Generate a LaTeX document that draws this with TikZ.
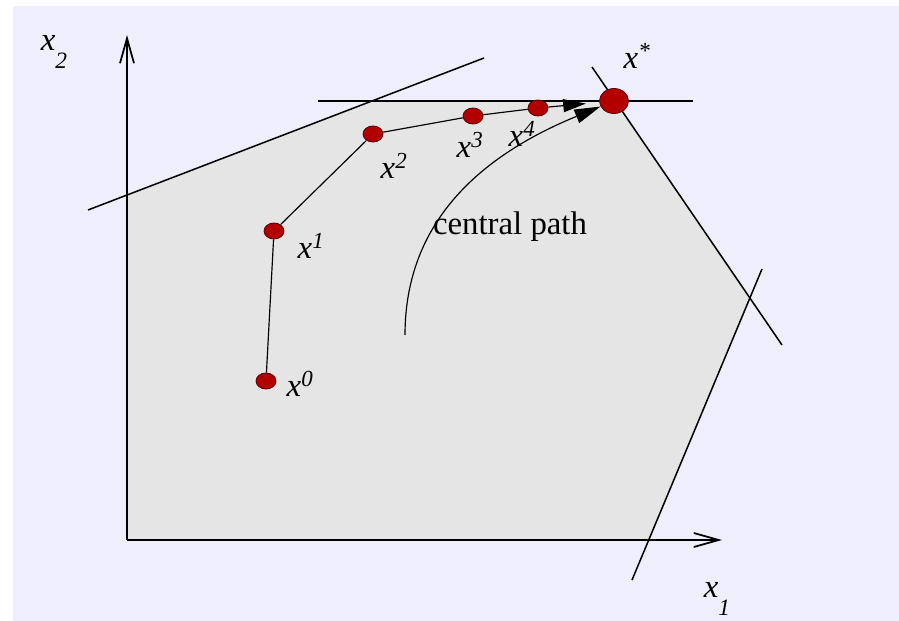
\documentclass[tikz,border=0pt]{standalone}
\usepackage{fontspec}
\setmainfont{Liberation Serif}
\usetikzlibrary{arrows.meta,shapes.geometric}
\definecolor{lav}{HTML}{EEEEFC}
\definecolor{feas}{HTML}{E5E5E5}
\definecolor{ptred}{HTML}{B20000}
\definecolor{ptdk}{HTML}{5A0000}
\newcommand{\lowsub}[1]{\raisebox{-.55em}{\fontsize{20}{22}\selectfont #1}}
\tikzset{
  axisln/.style={line width=1.5pt, -{Straight Barb[length=7.5mm,width=4.2mm]}},
  cons/.style={line width=1.3pt},
  iter/.style={line width=1pt},
  pt/.style={ellipse, draw=ptdk, fill=ptred, line width=0.7pt, inner sep=0pt,
             minimum width=6mm, minimum height=4.8mm},
  ptopt/.style={pt, minimum width=8.7mm, minimum height=7.5mm},
  lbl/.style={font=\fontsize{28}{32}\selectfont\itshape, inner sep=0pt},
  txt/.style={font=\fontsize{28}{32}\selectfont, inner sep=0pt},
}
\begin{document}
\begin{tikzpicture}[x=0.03cm, y=-0.03cm]
  \useasboundingbox (0,0) rectangle (899,621);
  \fill[white] (0,0) rectangle (899,621);
  \fill[lav] (13,6) rectangle (899,621);
  \fill[feas] (127,540) -- (127,195) -- (372,101) -- (615,101) -- (750,297) -- (649,540) -- cycle;
  \draw[cons] (88,210) -- (484,58);
  \draw[cons] (318,101) -- (693,101);
  \draw[cons] (592,67) -- (782,345);
  \draw[cons] (632,580) -- (762,269);
  \coordinate (o) at (127,540);
  \coordinate (xend) at (722,540);
  \coordinate (yend) at (127,35);
  \draw[axisln] (o) -- (xend);
  \draw[axisln] (o) -- (yend);
  \node[pt] (p0) at (266,381) {};
  \node[pt] (p1) at (274,231) {};
  \node[pt] (p2) at (373,134) {};
  \node[pt] (p3) at (473,116) {};
  \node[pt] (p4) at (538,108) {};
  \node[ptopt] (ps) at (614,101) {};
  \coordinate (cp) at (405,335);
  \draw[iter] (p0) -- (p1) -- (p2) -- (p3) -- (p4);
  \draw[iter, -{Triangle[length=6.8mm,width=3.9mm]}, shorten >=4mm] (p4) -- (ps);
  \draw[iter, -{Triangle[length=7.8mm,width=4.3mm]}] (cp) .. controls (405,230) and (470,160) .. (ps);
  \node[lbl] (l0) at (300,384) {x\textsuperscript{0}};
  \node[lbl] (l1) at (311,246) {x\textsuperscript{1}};
  \node[lbl] (l2) at (394,166) {x\textsuperscript{2}};
  \node[lbl] (l3) at (470,145) {x\textsuperscript{3}};
  \node[lbl] (l4) at (522,134) {x\textsuperscript{4}};
  \node[lbl] (ls) at (637,56) {x\textsuperscript{*}};
  \node[lbl] (ly) at (54,52) {x\lowsub{2}};
  \node[lbl] (lx) at (717,599) {x\lowsub{1}};
  \node[txt] (lcp) at (510,227) {central path};
\end{tikzpicture}
\end{document}
